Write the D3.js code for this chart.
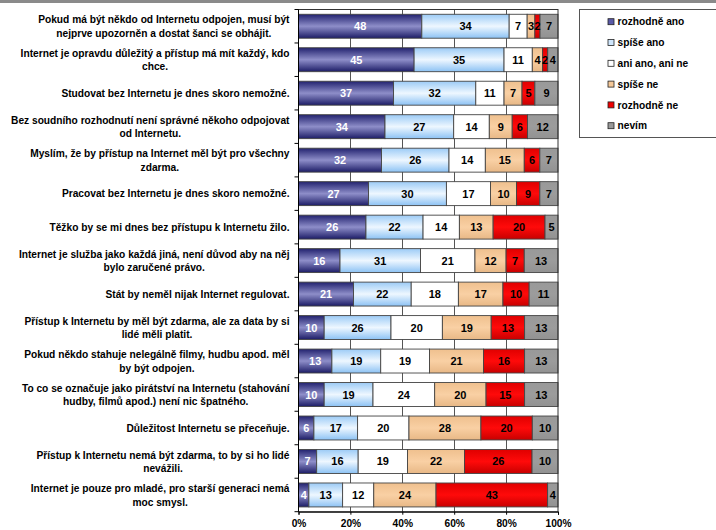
<!DOCTYPE html>
<html><head><meta charset="utf-8">
<script src="https://cdn.jsdelivr.net/npm/d3@7"></script>
<style>body{margin:0;background:#fff}svg{display:block;font-family:"Liberation Sans",Arial,sans-serif}</style>
</head><body><svg id="c" width="716" height="530"></svg>
<script>
const categories = [
  "Pokud má být někdo od Internetu odpojen, musí být\nnejprve upozorněn a dostat šanci se obhájit.",
  "Internet je opravdu důležitý a přístup má mít každý, kdo\nchce.",
  "Studovat bez Internetu je dnes skoro nemožné.",
  "Bez soudního rozhodnutí není správné někoho odpojovat\nod Internetu.",
  "Myslím, že by přístup na Internet měl být pro všechny\nzdarma.",
  "Pracovat bez Internetu je dnes skoro nemožné.",
  "Těžko by se mi dnes bez přístupu k Internetu žilo.",
  "Internet je služba jako každá jiná, není důvod aby na něj\nbylo zaručené právo.",
  "Stát by neměl nijak Internet regulovat.",
  "Přístup k Internetu by měl být zdarma, ale za data by si\nlidé měli platit.",
  "Pokud někdo stahuje nelegálně filmy, hudbu apod. měl\nby být odpojen.",
  "To co se označuje jako pirátství na Internetu (stahování\nhudby, filmů apod.) není nic špatného.",
  "Důležitost Internetu se přeceňuje.",
  "Přístup k Internetu nemá být zdarma, to by si ho lidé\nnevážili.",
  "Internet je pouze pro mladé, pro starší generaci nemá\nmoc smysl."
];
const seriesNames = ["rozhodně ano","spíše ano","ani ano, ani ne","spíše ne","rozhodně ne","nevím"];
const rozhodneAno = [48,45,37,34,32,27,26,16,21,10,13,10,6,7,4];
const spiseAno    = [34,35,32,27,26,30,22,31,22,26,19,19,17,16,13];
const aniAnoAniNe = [7,11,11,14,14,17,14,21,18,20,19,24,20,19,12];
const spiseNe     = [3,4,7,9,15,10,13,12,17,19,21,20,28,22,24];
const rozhodneNe  = [2,2,5,6,6,9,20,7,10,13,16,15,20,26,43];
const nevim       = [7,4,9,12,7,7,5,13,11,13,13,13,10,10,4];
const tickValues = [0,0.2,0.4,0.6,0.8,1];
const tickLabels = ["0%","20%","40%","60%","80%","100%"];

const seriesValues = [rozhodneAno, spiseAno, aniAnoAniNe, spiseNe, rozhodneNe, nevim];
const gradStops = [
  ["#22226f","#8e8ec9","#1c1c66"],
  ["#9ccbf6","#eef7ff","#8cc2f4"],
  ["#ffffff","#ffffff","#ffffff"],
  ["#efc08e","#f9d0a4","#e8b886"],
  ["#e00000","#ff0a0a","#c80000"],
  ["#999999","#9c9c9c","#929292"]
];
const legendFill = ["#5a5aa8","#cfe6fc","#ffffff","#f5c898","#ee0000","#999999"];
const labelColor = ["#ffffff","#000","#000","#000","#000","#000"];

const svg = d3.select("#c");
const W = 716, H = 530;
const x0 = 298.5, x1 = 558, y0 = 9.5, y1 = 511.7;

svg.append("rect").attr("x",0).attr("y",0).attr("width",W).attr("height",3).attr("fill","#8a8a8a");

const defs = svg.append("defs");
gradStops.forEach((s,i)=>{
  const g = defs.append("linearGradient").attr("id","g"+i).attr("x1",0).attr("y1",0).attr("x2",0).attr("y2",1);
  g.append("stop").attr("offset","0%").attr("stop-color",s[0]);
  g.append("stop").attr("offset","50%").attr("stop-color",s[1]);
  g.append("stop").attr("offset","100%").attr("stop-color",s[2]);
});

const rows = categories.map((c,i)=>{
  const o = {cat:i};
  seriesNames.forEach((n,j)=>o[n]=seriesValues[j][i]);
  return o;
});
const stack = d3.stack().keys(seriesNames).offset(d3.stackOffsetExpand)(rows);

const x = d3.scaleLinear().domain([0,1]).range([x0,x1]);
const y = d3.scaleBand().domain(d3.range(categories.length)).range([y0,y1]).paddingInner(0.285).paddingOuter(0.1425);

svg.append("rect").attr("x",x0).attr("y",y0).attr("width",x1-x0).attr("height",y1-y0).attr("fill","#fff");
svg.append("g").selectAll("line").data(tickValues.slice(1,5)).join("line")
  .attr("x1",d=>Math.round(x(d))+0.5).attr("x2",d=>Math.round(x(d))+0.5)
  .attr("y1",y0).attr("y2",y1).attr("stroke","#555").attr("stroke-width",1);

const sg = svg.append("g").selectAll("g").data(stack).join("g")
  .attr("fill",(d,i)=>"url(#g"+i+")");
sg.selectAll("rect").data(d=>d).join("rect")
  .attr("x",d=>x(d[0])).attr("width",d=>x(d[1])-x(d[0]))
  .attr("y",d=>y(d.data.cat)).attr("height",y.bandwidth())
  .attr("stroke","#444").attr("stroke-width",0.9);

stack.forEach((s,i)=>{
  svg.append("g").selectAll("text").data(s).join("text")
    .attr("x",d=>(x(d[0])+x(d[1]))/2)
    .attr("y",d=>y(d.data.cat)+y.bandwidth()/2+4)
    .attr("text-anchor","middle").attr("font-size","11px").attr("font-weight","bold")
    .attr("fill",labelColor[i])
    .text(d=>d.data[s.key]);
});

svg.append("rect").attr("x",x0).attr("y",y0).attr("width",x1-x0).attr("height",y1-y0)
  .attr("fill","none").attr("stroke","#333").attr("stroke-width",1);

const xAxis = d3.axisBottom(x).tickValues(tickValues).tickFormat((d,i)=>tickLabels[i]).tickSize(3).tickPadding(5);
const gx = svg.append("g").attr("transform",`translate(0,${y1})`).call(xAxis);
gx.select(".domain").attr("stroke","#000");
gx.selectAll(".tick line").attr("stroke","#000");
gx.selectAll("text").attr("font-size","10.2px").attr("font-weight","bold").attr("fill","#000")
  .attr("font-family",'"Liberation Sans",Arial,sans-serif');

const bounds = d3.range(categories.length+1).map(i=>y0+i*(y1-y0)/categories.length);
svg.append("line").attr("x1",x0).attr("x2",x0).attr("y1",y0).attr("y2",y1).attr("stroke","#000");
svg.append("g").selectAll("line").data(bounds).join("line")
  .attr("x1",x0-4).attr("x2",x0).attr("y1",d=>d).attr("y2",d=>d).attr("stroke","#000");

const labelRight = 289.5;
categories.forEach((c,i)=>{
  const lines = c.split("\n");
  const cy = y(i)+y.bandwidth()/2;
  const t = svg.append("text").attr("font-size","10.2px").attr("font-weight","bold").attr("fill","#000")
    .attr("text-anchor","middle");
  const spans = lines.map((l,k)=>t.append("tspan").text(l));
  const widths = spans.map(s=>s.node().getComputedTextLength());
  const wmax = d3.max(widths);
  const cx = labelRight - wmax/2;
  const n = lines.length;
  spans.forEach((s,k)=>{
    s.attr("x",cx).attr("y", cy + 3.8 + (k-(n-1)/2)*13.5);
  });
});

const lx = 579.5, ly = 9.5;
svg.append("rect").attr("x",lx).attr("y",ly).attr("width",160).attr("height",128)
  .attr("fill","#fff").attr("stroke","#555").attr("stroke-width",1);
const lg = svg.append("g").selectAll("g").data(seriesNames).join("g")
  .attr("transform",(d,i)=>`translate(608,${21.7+i*20.8})`);
lg.append("rect").attr("x",0).attr("y",-3).attr("width",6).attr("height",6)
  .attr("fill",(d,i)=>legendFill[i]).attr("stroke","#222").attr("stroke-width",0.8);
lg.append("text").attr("x",9.5).attr("y",3.7).attr("font-size","10.2px").attr("font-weight","bold")
  .attr("fill","#000").text(d=>d);
</script></body></html>
